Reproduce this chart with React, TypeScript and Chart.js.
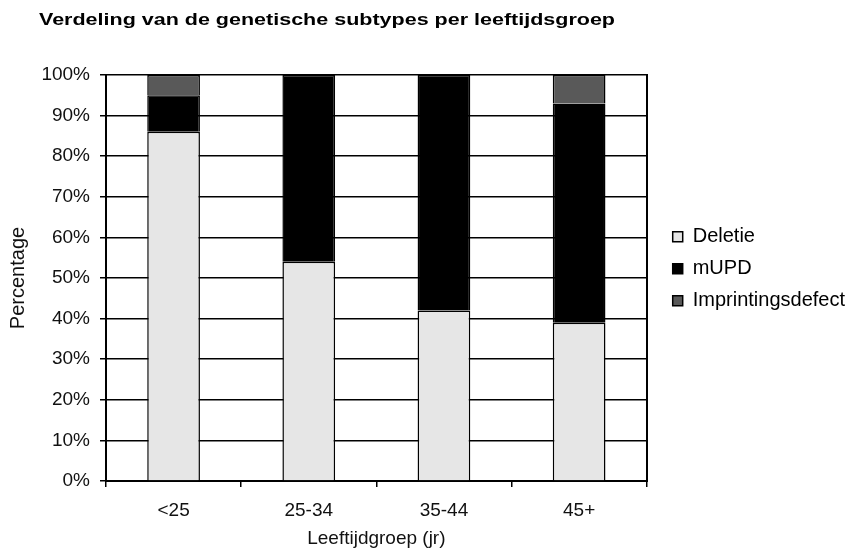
import React, { useEffect, useRef } from "react";
import { Chart, registerables } from "chart.js";

Chart.register(...registerables);

const titleText = "Verdeling van de genetische subtypes per leeftijdsgroep";
const categories = ["<25", "25-34", "35-44", "45+"];
const deletie = [86, 54, 42, 39];
const mUPD = [9, 46, 58, 54];
const imprinting = [5, 0, 0, 7];
const yTickValues = [0, 10, 20, 30, 40, 50, 60, 70, 80, 90, 100];

const FONT = "'Liberation Sans', Arial, sans-serif";

const titlePlugin = {
  id: "leftTitle",
  afterDraw(chart: any) {
    const ctx = chart.ctx;
    ctx.save();
    ctx.font = `bold 16px ${FONT}`;
    ctx.fillStyle = "#000";
    ctx.textBaseline = "middle";
    const w = ctx.measureText(titleText).width;
    const target = 576;
    ctx.translate(39, 21);
    ctx.scale(target / w, 1);
    ctx.fillText(titleText, 0, 0);
    ctx.restore();
  },
};

export default function App() {
  const ref = useRef<HTMLCanvasElement | null>(null);
  useEffect(() => {
    document.body.style.margin = "0";
    const chart = new Chart(ref.current as HTMLCanvasElement, {
      type: "bar",
      data: {
        labels: categories,
        datasets: [
          { label: "Deletie", data: deletie, backgroundColor: "#e6e6e6", borderColor: "#000", borderWidth: 1.5 },
          { label: "mUPD", data: mUPD, backgroundColor: "#000", borderColor: "#000", borderWidth: 1.5 },
          { label: "Imprintingsdefect", data: imprinting, backgroundColor: "#595959", borderColor: "#000", borderWidth: 1.5 },
        ],
      },
      options: {
        animation: false,
        responsive: false,
        layout: { padding: { top: 75, left: 0, right: 9, bottom: 6 } },
        datasets: { bar: { categoryPercentage: 1, barPercentage: 0.39 } },
        plugins: {
          title: { display: false },
          tooltip: { enabled: false },
          legend: {
            position: "right",
            align: "start",
            maxWidth: 300,
            title: { display: true, text: " ", font: { family: FONT, size: 19 }, padding: { top: 0, bottom: 117 } },
            labels: {
              boxWidth: 10,
              boxHeight: 10,
              padding: 12,
              color: "#000",
              font: { family: FONT, size: 20 },
            },
          },
        },
        scales: {
          x: {
            stacked: true,
            afterFit(scale: any) {
              scale.height = 69;
            },
            grid: { offset: true, drawOnChartArea: false, drawTicks: true, tickLength: 6, color: "#000", lineWidth: 1.5 },
            border: { color: "#000", width: 2 },
            ticks: { color: "#111", padding: 12, font: { family: FONT, size: 19 } },
            title: { display: true, text: "Leeftijdgroep (jr)", color: "#111", font: { family: FONT, size: 19 }, padding: { top: 0, bottom: 0 } },
          },
          y: {
            stacked: true,
            min: 0,
            max: 100,
            afterBuildTicks(scale: any) {
              scale.ticks = yTickValues.map((v) => ({ value: v }));
            },
            afterFit(scale: any) {
              scale.width = 106;
            },
            grid: { color: "#000", lineWidth: 1.5, tickLength: 6 },
            border: { color: "#000", width: 2 },
            ticks: { color: "#111", padding: 10, font: { family: FONT, size: 19 }, callback: (v: any) => v + "%" },
            title: { display: true, text: "Percentage", color: "#111", font: { family: FONT, size: 20 }, padding: { top: 6, bottom: 0 } },
          },
          y2: {
            position: "right",
            min: 0,
            max: 100,
            afterFit(scale: any) {
              scale.width = 14;
            },
            grid: { display: false },
            border: { color: "#000", width: 2 },
            ticks: { display: false },
          },
        },
      },
      plugins: [titlePlugin],
    } as any);
    return () => chart.destroy();
  }, []);
  return <canvas ref={ref} width={864} height={556} style={{ display: "block" }} />;
}
